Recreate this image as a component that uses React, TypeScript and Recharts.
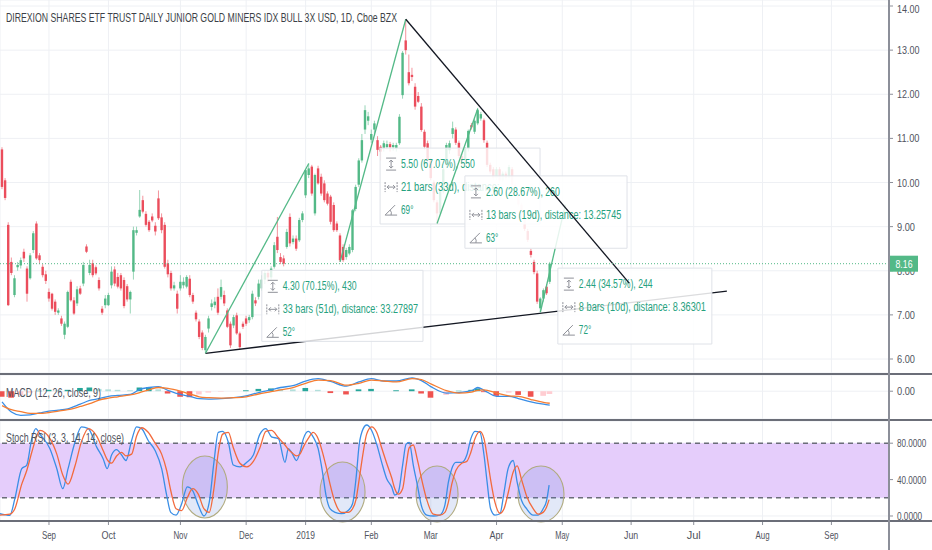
import React from 'react'
import {
  ComposedChart,
  Bar,
  Line,
  XAxis,
  YAxis,
  CartesianGrid,
  ReferenceLine,
  ReferenceArea,
  ReferenceDot,
  Cell,
} from 'recharts'

// ---- layout / style ----
const W = 932
const X_DOMAIN: [number, number] = [-15.65, 268.4]
const UP = '#53b987'
const DOWN = '#eb4d5c'
const GRID = '#eef0f4'
const TEXT = '#50535e'
const TOOL_TEXT = '#26a17e'
const FONT = "'Liberation Sans', Arial, sans-serif"

// ---- axes ----
// bar index 0 = first session of Sep 2018
const FIRST_BAR = -15
const MONTH_TICKS = [0, 19, 42, 63, 82, 103, 122, 143, 164, 186, 206, 228, 250]
const MONTH_LABELS = ['Sep', 'Oct', 'Nov', 'Dec', '2019', 'Feb', 'Mar', 'Apr', 'May', 'Jun', 'Jul', 'Aug', 'Sep']
const PRICE_TICKS = [6, 7, 8, 9, 10, 11, 12, 13, 14]
const STOCH_TICKS = [0, 40, 80]
const LAST_PRICE = 8.16

// ---- daily candles (Aug 13 2018 .. Apr 25 2019) ----
const OPEN = [
  10.75, 10.05, 9.04, 8.2, 7.45, 8.08, 8.12, 8.43, 8.05, 7.83,
  8.47, 9.07, 8.35, 8.09, 7.92, 7.52, 7.48, 7.3, 7.05, 6.92,
  6.55, 6.73, 7.75, 7.33, 7.26, 7.6, 7.71, 8.55, 7.95, 8.17,
  8.08, 7.79, 7.14, 7.22, 7.22, 7.67, 8.03, 7.86, 7.9, 7.79,
  7.65, 7.35, 7.98, 8.86, 9.23, 9.6, 9.29, 9.11, 9.23, 9.02,
  9.64, 9.21, 9.04, 8.17, 7.95, 7.6, 7.48, 7.6, 7.67, 7.64,
  7.82, 7.45, 7.05, 6.85, 6.6, 6.2, 6.69, 7.18, 7.22, 7.41,
  7.41, 7.45, 7.1, 6.8, 6.76, 6.99, 6.58, 6.8, 6.92, 6.88,
  6.95, 7.33, 7.41, 7.6, 7.8, 7.95, 7.85, 8.09, 8.77, 8.31,
  8.28, 8.54, 9.22, 8.65, 8.73, 8.69, 9.15, 9.71, 10.17, 10.36,
  9.3, 10.32, 10.13, 9.98, 9.75, 9.68, 9.49, 9.07, 8.8, 8.54,
  8.31, 8.39, 8.47, 9.4, 9.95, 10.5, 11.2, 11.4, 10.97, 11.2,
  10.96, 10.81, 10.77, 10.8, 10.87, 10.8, 10.77, 10.89, 11.98, 13.22,
  12.5, 12.44, 12.17, 11.96, 11.72, 11.15, 10.89, 10.5, 10.0, 9.55,
  9.3, 9.8, 10.4, 10.73, 11.1, 11.2, 10.9, 10.6, 10.5, 10.77,
  11.3, 11.15, 11.34, 11.45, 11.41, 10.9, 10.4, 10.3, 10.1, 10.3,
  10.05, 10.2, 10.1, 10.3, 9.95, 9.7, 9.5, 9.2, 8.9, 8.45,
  8.2, 7.94, 7.15, 7.37, 7.64, 7.75,
]
const HIGH = [
  10.8, 10.1, 9.1, 8.3, 7.9, 8.2, 8.3, 8.5, 8.1, 8.4,
  8.9, 9.12, 8.4, 8.15, 8.0, 7.6, 7.5, 7.35, 7.15, 6.98,
  6.85, 7.55, 7.8, 7.4, 7.65, 7.66, 8.2, 8.6, 8.25, 8.25,
  8.12, 7.85, 7.2, 7.45, 7.5, 8.1, 8.1, 7.95, 7.95, 7.85,
  7.7, 7.55, 9.0, 9.0, 9.83, 9.7, 9.35, 9.15, 9.3, 9.1,
  9.82, 9.3, 9.1, 8.25, 8.0, 7.75, 7.55, 7.9, 7.85, 7.9,
  7.9, 7.5, 7.1, 6.9, 6.65, 6.55, 6.98, 7.35, 7.4, 7.6,
  7.8, 7.55, 7.15, 6.85, 7.0, 7.05, 6.62, 6.85, 6.98, 7.0,
  7.55, 7.4, 7.8, 7.9, 8.0, 8.0, 8.1, 8.65, 9.22, 8.4,
  8.35, 8.95, 9.3, 8.8, 8.8, 9.2, 9.35, 10.3, 10.43, 10.4,
  10.2, 10.38, 10.2, 10.05, 9.8, 9.72, 9.55, 9.12, 8.85, 8.6,
  8.52, 8.6, 9.4, 9.95, 10.55, 11.1, 11.75, 11.6, 11.2, 11.4,
  11.05, 10.85, 10.95, 10.95, 10.92, 10.9, 10.9, 11.55, 12.98, 13.7,
  12.9, 12.6, 12.25, 12.05, 11.8, 11.2, 10.95, 10.55, 10.05, 9.6,
  9.85, 10.35, 10.9, 10.95, 11.38, 11.25, 10.95, 10.65, 10.8, 11.2,
  11.35, 11.45, 11.69, 11.6, 11.45, 10.95, 10.45, 10.35, 10.35, 10.35,
  10.25, 10.25, 10.4, 10.35, 10.0, 9.75, 9.55, 9.25, 8.95, 8.5,
  8.25, 8.0, 7.4, 7.6, 7.7, 8.2,
]
const LOW = [
  9.85, 9.6, 7.2, 7.9, 7.4, 8.0, 8.05, 8.2, 7.3, 7.8,
  8.4, 8.25, 8.15, 7.85, 7.7, 7.3, 7.1, 7.0, 7.0, 6.75,
  6.45, 6.7, 7.3, 7.0, 7.2, 7.45, 7.65, 8.4, 7.9, 7.85,
  7.9, 7.55, 7.0, 7.15, 7.2, 7.6, 7.65, 7.6, 7.55, 7.15,
  7.3, 7.03, 7.8, 8.8, 9.2, 9.3, 9.0, 8.88, 9.1, 8.8,
  9.15, 8.85, 8.05, 7.85, 7.55, 7.55, 7.03, 7.55, 7.6, 7.6,
  7.4, 7.25, 6.85, 6.45, 6.2, 6.13, 6.6, 7.1, 7.15, 7.0,
  7.35, 7.2, 6.7, 6.25, 6.7, 6.55, 6.22, 6.68, 6.75, 6.82,
  6.9, 7.2, 7.35, 7.55, 7.7, 7.75, 7.8, 8.05, 8.4, 8.15,
  8.1, 8.5, 8.55, 8.6, 8.45, 8.65, 9.1, 9.65, 10.1, 9.7,
  9.25, 9.95, 9.7, 9.55, 9.48, 9.05, 8.88, 8.88, 8.2, 8.2,
  8.25, 8.35, 8.42, 9.35, 9.9, 10.45, 11.1, 11.3, 10.9, 11.1,
  10.6, 10.5, 10.7, 10.75, 10.7, 10.72, 10.7, 10.85, 11.9, 12.9,
  12.2, 12.3, 11.65, 11.8, 11.15, 10.75, 10.45, 10.05, 9.55, 9.07,
  9.25, 9.75, 10.35, 10.65, 11.0, 10.85, 10.55, 10.4, 10.45, 10.7,
  11.2, 11.1, 11.3, 11.4, 10.9, 10.35, 10.2, 10.05, 10.05, 10.0,
  10.0, 10.05, 10.05, 9.9, 9.65, 9.45, 9.15, 8.9, 8.65, 8.3,
  7.92, 7.25, 7.06, 7.3, 7.45, 7.7,
]
const CLOSE = [
  9.9, 9.65, 7.22, 7.95, 7.83, 8.13, 8.24, 8.28, 7.48, 8.35,
  8.85, 8.28, 8.24, 7.9, 7.77, 7.37, 7.14, 7.07, 7.1, 6.8,
  6.8, 7.52, 7.33, 7.03, 7.58, 7.48, 8.13, 8.43, 8.13, 7.9,
  7.94, 7.6, 7.05, 7.37, 7.45, 7.98, 7.71, 7.64, 7.6, 7.2,
  7.35, 7.52, 8.92, 8.92, 9.38, 9.34, 9.04, 8.92, 9.14, 8.89,
  9.19, 8.92, 8.09, 7.92, 7.6, 7.67, 7.14, 7.75, 7.75, 7.86,
  7.45, 7.3, 6.9, 6.5, 6.25, 6.5, 6.92, 7.26, 7.3, 7.05,
  7.63, 7.26, 6.73, 6.31, 6.95, 6.58, 6.27, 6.73, 6.8, 6.95,
  7.48, 7.26, 7.71, 7.8, 7.95, 7.85, 8.05, 8.58, 8.47, 8.2,
  8.16, 8.88, 8.62, 8.73, 8.5, 9.15, 9.3, 10.28, 10.32, 9.75,
  10.17, 9.98, 9.75, 9.6, 9.52, 9.11, 8.92, 8.92, 8.24, 8.24,
  8.47, 8.54, 9.37, 9.9, 10.5, 10.96, 11.64, 11.5, 11.1, 11.34,
  10.74, 10.7, 10.89, 10.87, 10.8, 10.85, 10.85, 11.49, 12.94, 13.0,
  12.25, 12.39, 11.72, 11.83, 11.19, 10.81, 10.5, 10.1, 9.6, 9.3,
  9.8, 10.3, 10.85, 10.89, 11.23, 10.9, 10.6, 10.5, 10.77, 11.17,
  11.25, 11.4, 11.64, 11.55, 10.96, 10.4, 10.25, 10.1, 10.3, 10.05,
  10.2, 10.1, 10.35, 9.95, 9.7, 9.5, 9.2, 8.95, 8.7, 8.36,
  7.97, 7.3, 7.37, 7.56, 7.49, 8.16,
]

// ---- MACD (12, 26, close, 9) ----
const MACD_IDX = [
  -15, -12, -9, -6, -3, 0, 3, 6, 10, 13, 16, 19, 22, 26, 29, 32, 35, 38, 42, 45,
  48, 51, 55, 59, 63, 67, 71, 74, 78, 82, 86, 90, 95, 99, 103, 107, 111, 116, 119, 122,
  127, 131, 135, 137, 139, 143, 147, 150, 154, 158, 160,
]
const MACD = [
  -0.23, -0.45, -0.52, -0.51, -0.47, -0.43, -0.41, -0.38, -0.28, -0.2,
  -0.16, -0.11, -0.09, -0.07, 0.04, 0.08, 0.1, 0.02, -0.07, -0.11,
  -0.16, -0.17, -0.16, -0.14, -0.1, -0.03, 0.03, 0.08, 0.12, 0.22,
  0.27, 0.21, 0.11, 0.2, 0.27, 0.22, 0.22, 0.29, 0.23, 0.1,
  -0.04, -0.03, 0.01, 0.08, 0.02, -0.11, -0.11, -0.16, -0.23, -0.28, -0.3,
]
const SIGNAL = [
  -0.31, -0.4, -0.44, -0.48, -0.48, -0.46, -0.43, -0.4, -0.33, -0.27,
  -0.19, -0.15, -0.12, -0.08, -0.03, 0.03, 0.08, 0.06, 0.0, -0.06,
  -0.12, -0.14, -0.15, -0.14, -0.12, -0.06, -0.01, 0.03, 0.08, 0.17,
  0.24, 0.23, 0.13, 0.17, 0.24, 0.22, 0.2, 0.27, 0.25, 0.16,
  0.01, -0.04, -0.02, 0.02, 0.03, -0.04, -0.1, -0.11, -0.18, -0.24, -0.26,
]
const HIST = [
  -0.12, -0.14, -0.08, -0.03, 0.01, 0.03, 0.02, 0.03, 0.07, 0.08,
  0.05, 0.04, 0.03, 0.02, 0.08, 0.09, 0.04, -0.05, -0.12, -0.13,
  -0.07, -0.03, -0.01, 0, 0.02, 0.05, 0.06, 0.05, 0.04, 0.07,
  0.03, -0.04, -0.07, 0.04, 0.05, 0, 0.02, 0.04, -0.05, -0.14,
  -0.08, 0.01, 0.03, 0.06, -0.02, -0.1, -0.03, -0.08, -0.12, -0.1, -0.06,
]

// ---- Stoch RSI (3, 3, 14, 14, close) ----
const STOCH_IDX = [
  -15.7, -12.5, -10.9, -8.7, -7.1, -5.5, -4.2, -2.9, 0.3, 2.5,
  4.4, 6.1, 8.3, 10.4, 12.6, 15.2, 17.3, 18.6, 20, 21.6,
  23.2, 24.6, 26.4, 28, 29.6, 31.7, 33.9, 36, 37.6, 38.9,
  40.6, 42.4, 44.2, 45.9, 47.7, 49.5, 51.2, 52.7, 54.1, 55.5,
  57.3, 58.9, 61, 63.2, 65.3, 67.4, 69.3, 71.1, 73.3, 75.4,
  76.5, 77.5, 79.1, 80.2, 81.3, 82.8, 84.4, 86, 87.4, 88.5,
  89.8, 91.4, 93.5, 95.6, 97, 98.1, 99.1, 100.4, 101.5, 103.1,
  104.7, 106.3, 107.9, 109.5, 110.5, 111.6, 113, 114.1, 115.1, 116.4,
  117.7, 119.1, 120.7, 122.8, 124.9, 126.5, 127.6, 128.7, 130, 131.9,
  133.5, 134.8, 136.1, 137.7, 139, 140, 141.1, 142.5, 144.1, 145.4,
  146.7, 148.3, 149.6, 151, 152.6, 154.7, 156.3, 157.9, 159, 159.8,
]
const STOCH_K = [
  2.5, 0.8, 19, 52, 56, 85, 96, 90, 74, 52,
  30, 52, 81, 98, 96, 76, 63, 52, 67, 73,
  67, 61, 83, 98, 96, 83, 72, 52, 23, 4,
  1, 13.5, 32, 28, 12, 0, 15, 59, 92, 93,
  81, 56, 54, 59, 67, 90, 96, 87, 85, 59,
  74, 70, 61, 70, 85, 93, 87, 74, 48, 23,
  8, 4, 2.5, 6, 13.5, 41, 78, 96, 100, 94,
  79, 59, 41, 32, 23, 26, 56, 79, 81, 56,
  34, 10, 1, 0, 1, 12, 37, 52, 59, 59,
  67, 85, 93, 92, 67, 37, 8, 1, 2.5, 26,
  52, 61, 37, 17, 8, 1, 1, 8, 17, 34,
]
const STOCH_D = [
  1, 2, 8, 35, 50, 70, 85, 94, 85, 68,
  45, 35, 55, 82, 96, 88, 72, 62, 58, 66,
  70, 66, 68, 88, 97, 92, 80, 68, 50, 28,
  8, 6, 20, 30, 24, 8, 4, 30, 70, 90,
  92, 75, 58, 54, 60, 75, 93, 94, 86, 78,
  73, 70, 66, 68, 76, 85, 92, 85, 70, 55,
  35, 15, 4, 4, 8, 18, 40, 70, 90, 98,
  92, 75, 58, 42, 30, 24, 30, 55, 75, 78,
  62, 40, 18, 2, 1, 4, 15, 35, 50, 58,
  60, 70, 85, 93, 85, 65, 40, 15, 3, 8,
  25, 48, 55, 40, 22, 8, 2, 4, 10, 18,
]

// ---- drawings on the chart (bar index, price) ----
const GREEN_LEGS = [
  [{ x: 50, y: 6.13 }, { x: 83, y: 10.43 }],
  [{ x: 93, y: 8.2 }, { x: 114, y: 13.7 }],
  [{ x: 124, y: 9.07 }, { x: 137, y: 11.67 }],
  [{ x: 157, y: 7.06 }, { x: 165, y: 9.5 }],
]
const SUPPORT_LINE = [{ x: 50, y: 6.13 }, { x: 216.6, y: 7.54 }]
const RESIST_LINE = [{ x: 114, y: 13.7 }, { x: 185.4, y: 7.72 }]

const INFO_BOXES = [
  { x1: 68, x2: 119.5, y1: 6.4, y2: 8.01, lines: ['4.30 (70.15%), 430', '33 bars (51d), distance: 33.27897', '52°'] },
  { x1: 105.8, x2: 156.9, y1: 9.06, y2: 10.78, lines: ['5.50 (67.07%), 550', '21 bars (33d), distance:', '69°'] },
  { x1: 132.9, x2: 184.7, y1: 8.51, y2: 10.15, lines: ['2.60 (28.67%), 260', '13 bars (19d), distance: 13.25745', '63°'] },
  { x1: 162.6, x2: 211.8, y1: 6.34, y2: 8.06, lines: ['2.44 (34.57%), 244', '8 bars (10d), distance: 8.36301', '72°'] },
]

const STOCH_RINGS = [
  { x: 49.8, y: 31.9, rx: 22.5, ry: 31 },
  { x: 93.8, y: 26.4, rx: 22.5, ry: 30 },
  { x: 124, y: 24.2, rx: 21, ry: 28 },
  { x: 157.2, y: 24.2, rx: 23, ry: 28 },
]

const candles = OPEN.map((o, i) => ({
  idx: FIRST_BAR + i,
  open: o,
  high: HIGH[i],
  low: LOW[i],
  close: CLOSE[i],
  range: [LOW[i], HIGH[i]],
}))

const macdRows = MACD_IDX.map((idx, i) => ({ idx, macd: MACD[i], signal: SIGNAL[i], hist: HIST[i] }))

const stochRows = STOCH_IDX.map((idx, i) => ({ idx, k: STOCH_K[i], d: STOCH_D[i] }))

function histColor(i: number) {
  const v = HIST[i]
  const prev = i > 0 ? HIST[i - 1] : 0
  if (v >= 0) return v >= prev ? '#26a69a' : '#b2dfdb'
  return v <= prev ? '#ef5350' : '#ffcdd2'
}

function Candle(props: any) {
  const { x, y, width, height, payload } = props
  if (!payload || height == null) return null
  const { open, close, high, low } = payload
  const color = close >= open ? UP : DOWN
  const top = Math.min(y, y + height)
  const h = Math.abs(height)
  const span = high - low || 1
  const yAt = (v: number) => top + ((high - v) / span) * h
  const bodyTop = yAt(Math.max(open, close))
  const bodyH = Math.max(1.2, yAt(Math.min(open, close)) - bodyTop)
  const cx = x + width / 2
  const bw = 2.4
  return (
    <g>
      <line x1={cx} x2={cx} y1={top} y2={top + h} stroke={color} strokeOpacity={0.6} />
      <rect x={cx - bw / 2} y={bodyTop} width={bw} height={bodyH} fill={color} />
    </g>
  )
}

function ValueTick({ x, y, payload, digits, size = 11, per = 4.5 }: any) {
  const s = Number(payload.value).toFixed(digits)
  return (
    <text x={x} y={y + 4} fontSize={size} fill={TEXT} fontFamily={FONT} textLength={s.length * per} lengthAdjust="spacingAndGlyphs">
      {s}
    </text>
  )
}

function MonthTick({ x, y, payload }: any) {
  const s = MONTH_LABELS[MONTH_TICKS.indexOf(payload.value)] ?? ''
  return (
    <text x={x} y={y + 8} textAnchor="middle" fontSize={11} fill={TEXT} fontFamily={FONT} textLength={s.length * 4.7} lengthAdjust="spacingAndGlyphs">
      {s}
    </text>
  )
}

function BoxLabel({ viewBox, lines }: any) {
  if (!viewBox) return null
  const { x, y } = viewBox
  const ix = x + 11
  const ico = '#8f9199'
  return (
    <g>
      {/* price range icon */}
      <g stroke={ico} strokeWidth={1} fill="none">
        <line x1={ix - 5} x2={ix + 5} y1={y + 10} y2={y + 10} />
        <line x1={ix - 5} x2={ix + 5} y1={y + 22} y2={y + 22} />
        <line x1={ix} x2={ix} y1={y + 12} y2={y + 20} />
        <polyline points={`${ix - 2},${y + 14} ${ix},${y + 12} ${ix + 2},${y + 14}`} />
        <polyline points={`${ix - 2},${y + 18} ${ix},${y + 20} ${ix + 2},${y + 18}`} />
      </g>
      {/* bars range icon */}
      <g stroke={ico} strokeWidth={1} fill="none">
        <line x1={ix - 6} x2={ix - 6} y1={y + 34} y2={y + 44} strokeDasharray="2 1" />
        <line x1={ix + 6} x2={ix + 6} y1={y + 34} y2={y + 44} strokeDasharray="2 1" />
        <line x1={ix - 4} x2={ix + 4} y1={y + 39} y2={y + 39} />
        <polyline points={`${ix - 2},${y + 37} ${ix - 4},${y + 39} ${ix - 2},${y + 41}`} />
        <polyline points={`${ix + 2},${y + 37} ${ix + 4},${y + 39} ${ix + 2},${y + 41}`} />
      </g>
      {/* angle icon */}
      <g stroke={ico} strokeWidth={1} fill="none">
        <line x1={ix - 6} x2={ix + 6} y1={y + 67} y2={y + 67} />
        <line x1={ix - 6} x2={ix + 4} y1={y + 67} y2={y + 57} />
        <path d={`M ${ix - 1} ${y + 62} Q ${ix + 1} ${y + 64} ${ix} ${y + 67}`} />
      </g>
      {lines.map((t: string, i: number) => (
        <text
          key={i}
          x={x + 21}
          y={y + 20 + i * 23}
          fontSize={12}
          fill={TOOL_TEXT}
          fontFamily={FONT}
          textLength={t.length * 4.1}
          lengthAdjust="spacingAndGlyphs"
        >
          {t}
        </text>
      ))}
    </g>
  )
}

function PriceTag({ viewBox, value }: any) {
  if (!viewBox) return null
  const x = viewBox.x + viewBox.width
  const y = viewBox.y
  const s = value.toFixed(2)
  return (
    <g>
      <rect x={x + 1} y={y - 8} width={28} height={16} fill={UP} />
      <text x={x + 15} y={y + 4} textAnchor="middle" fontSize={11} fill="#fff" fontFamily={FONT} textLength={17} lengthAdjust="spacingAndGlyphs">
        {s}
      </text>
    </g>
  )
}

function PriceChart() {
  return (
    <ComposedChart width={W} height={373} data={candles} margin={{ top: 0, right: 0, bottom: 0, left: 0 }}>
      <CartesianGrid stroke={GRID} />
      <XAxis dataKey="idx" type="number" domain={X_DOMAIN} ticks={MONTH_TICKS} hide allowDataOverflow />
      <YAxis
        orientation="right"
        width={43}
        domain={[5.683, 14.136]}
        ticks={PRICE_TICKS}
        allowDataOverflow
        axisLine={false}
        tickLine={{ stroke: '#8c8f99' }}
        tickSize={4}
        tickMargin={4}
        tick={<ValueTick digits={2} />}
      />
      <Bar dataKey="range" barSize={3} shape={(p: any) => <Candle {...p} />} isAnimationActive={false} zIndex={300} />
      <ReferenceLine segment={SUPPORT_LINE} stroke="#131722" strokeWidth={1.3} ifOverflow="visible" zIndex={601} />
      <ReferenceLine segment={GREEN_LEGS[0]} stroke={UP} strokeWidth={1.3} ifOverflow="visible" zIndex={602} />
      <ReferenceLine segment={GREEN_LEGS[1]} stroke={UP} strokeWidth={1.3} ifOverflow="visible" zIndex={603} />
      {INFO_BOXES.slice(0, 2).map((b, i) => (
        <ReferenceArea
          key={`b${i}`}
          x1={b.x1}
          x2={b.x2}
          y1={b.y1}
          y2={b.y2}
          fill="#ffffff"
          fillOpacity={0.82}
          stroke="#dfe2e8"
          strokeWidth={1}
          ifOverflow="visible"
          zIndex={604 + i}
          label={<BoxLabel lines={b.lines} />}
        />
      ))}
      <ReferenceLine segment={GREEN_LEGS[2]} stroke={UP} strokeWidth={1.3} ifOverflow="visible" zIndex={606} />
      <ReferenceLine segment={GREEN_LEGS[3]} stroke={UP} strokeWidth={1.3} ifOverflow="visible" zIndex={607} />
      {INFO_BOXES.slice(2).map((b, i) => (
        <ReferenceArea
          key={`c${i}`}
          x1={b.x1}
          x2={b.x2}
          y1={b.y1}
          y2={b.y2}
          fill="#ffffff"
          fillOpacity={0.85}
          stroke="#dfe2e8"
          strokeWidth={1}
          ifOverflow="visible"
          zIndex={608 + i}
          label={<BoxLabel lines={b.lines} />}
        />
      ))}
      <ReferenceLine segment={RESIST_LINE} stroke="#131722" strokeWidth={1.3} ifOverflow="visible" zIndex={620} />
      <ReferenceLine
        y={LAST_PRICE}
        stroke={UP}
        strokeDasharray="1 2"
        strokeWidth={1}
        zIndex={2000}
        label={<PriceTag value={LAST_PRICE} />}
      />
    </ComposedChart>
  )
}

function MacdChart() {
  return (
    <ComposedChart width={W} height={44} data={macdRows} margin={{ top: 0, right: 0, bottom: 0, left: 0 }}>
      <CartesianGrid stroke={GRID} />
      <XAxis dataKey="idx" type="number" domain={X_DOMAIN} ticks={MONTH_TICKS} hide allowDataOverflow />
      <YAxis
        orientation="right"
        width={43}
        domain={[-0.6, 0.35]}
        ticks={[0]}
        allowDataOverflow
        axisLine={false}
        tickLine={{ stroke: '#8c8f99' }}
        tickSize={4}
        tickMargin={4}
        tick={<ValueTick digits={2} />}
      />
      <Bar dataKey="hist" barSize={7} isAnimationActive={false}>
        {macdRows.map((_, i) => (
          <Cell key={i} fill={histColor(i)} />
        ))}
      </Bar>
      <Line dataKey="macd" type="monotone" stroke="#3a8ee6" strokeWidth={1.3} dot={false} isAnimationActive={false} />
      <Line dataKey="signal" type="monotone" stroke="#f57d32" strokeWidth={1.3} dot={false} isAnimationActive={false} />
    </ComposedChart>
  )
}

function StochChart() {
  return (
    <ComposedChart width={W} height={129} data={stochRows} margin={{ top: 0, right: 0, bottom: 0, left: 0 }}>
      <CartesianGrid stroke={GRID} />
      <XAxis
        dataKey="idx"
        type="number"
        domain={X_DOMAIN}
        ticks={MONTH_TICKS}
        allowDataOverflow
        height={29}
        axisLine={false}
        tickLine={{ stroke: '#8c8f99' }}
        tickSize={4}
        tickMargin={6}
        tick={<MonthTick />}
        interval={0}
      />
      <YAxis
        orientation="right"
        width={43}
        domain={[-5.5, 104.4]}
        ticks={STOCH_TICKS}
        allowDataOverflow
        axisLine={false}
        tickLine={{ stroke: '#8c8f99' }}
        tickSize={4}
        tickMargin={4}
        tick={<ValueTick digits={4} size={10} per={4.2} />}
      />
      <ReferenceArea y1={20} y2={80} fill="#e5cdfb" fillOpacity={1} stroke="none" zIndex={10} />
      <ReferenceLine y={80} stroke="#6a6d78" strokeDasharray="5 4" strokeWidth={1.4} zIndex={20} />
      <ReferenceLine y={20} stroke="#6a6d78" strokeDasharray="5 4" strokeWidth={1.4} zIndex={20} />
      {STOCH_RINGS.map((r, i) => (
        <ReferenceDot
          key={i}
          x={r.x}
          y={r.y}
          r={10}
          ifOverflow="visible"
          zIndex={30}
          shape={(p: any) => (
            <ellipse cx={p.cx} cy={p.cy} rx={r.rx} ry={r.ry} fill="rgb(95,130,215)" fillOpacity={0.18} stroke="#b0ab80" strokeWidth={1.1} />
          )}
        />
      ))}
      <Line dataKey="k" type="monotone" stroke="#3a8ee6" strokeWidth={1.3} dot={false} isAnimationActive={false} zIndex={40} />
      <Line dataKey="d" type="monotone" stroke="#f26a3d" strokeWidth={1.3} dot={false} isAnimationActive={false} zIndex={41} />
    </ComposedChart>
  )
}

function Rule({ top, left = 0, width = W, height = 2, color = '#6b6e78' }: any) {
  return <div style={{ position: 'absolute', top, left, width, height, background: color }} />
}

export default function App() {
  return (
    <div style={{ position: 'relative', width: W, height: 550, background: '#fff', overflow: 'hidden', fontFamily: FONT }}>
      <style>{'body{margin:0}'}</style>
      <div style={{ position: 'absolute', left: 0, top: 0 }}>
        <PriceChart />
      </div>
      <div style={{ position: 'absolute', left: 0, top: 375 }}>
        <MacdChart />
      </div>
      <div style={{ position: 'absolute', left: 0, top: 421 }}>
        <StochChart />
      </div>
      <Rule top={373} />
      <Rule top={419} />
      <Rule top={520} />
      <Rule top={0} left={888} width={1.5} height={550} color="#8c8f99" />
      <svg width={W} height={550} style={{ position: 'absolute', left: 0, top: 0, pointerEvents: 'none' }}>
        <text x={6} y={22} fontSize={13} fill="#3c3f47" fontFamily={FONT} textLength={391} lengthAdjust="spacingAndGlyphs">
          DIREXION SHARES ETF TRUST DAILY JUNIOR GOLD MINERS IDX BULL 3X USD, 1D, Cboe BZX
        </text>
        <text x={6} y={397} fontSize={12} fill={TEXT} fontFamily={FONT} textLength={95} lengthAdjust="spacingAndGlyphs">
          MACD (12, 26, close, 9)
        </text>
        <text x={6} y={442} fontSize={12} fill={TEXT} fontFamily={FONT} textLength={118} lengthAdjust="spacingAndGlyphs">
          Stoch RSI (3, 3, 14, 14, close)
        </text>
      </svg>
    </div>
  )
}
